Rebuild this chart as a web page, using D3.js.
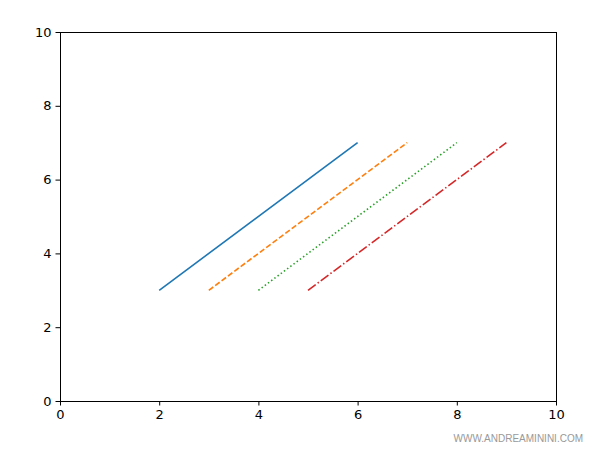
<!DOCTYPE html>
<html><head><meta charset="utf-8">
<script src="https://cdn.jsdelivr.net/npm/d3@7"></script>
<style>body{margin:0;background:#fff}svg{display:block}</style>
</head><body>
<svg id="c" width="600" height="450"></svg>
<script>
const xTicks = [0, 2, 4, 6, 8, 10];
const yTicks = [0, 2, 4, 6, 8, 10];
const seriesNames = ["s1", "s2", "s3", "s4"];
const xStart = [2, 3, 4, 5];
const xEnd = [6, 7, 8, 9];
const yStart = [3, 3, 3, 3];
const yEnd = [7, 7, 7, 7];
const colors = ["#1f77b4", "#ff7f0e", "#2ca02c", "#d62728"];
const dashes = [null, "5.55,2.4", "1.5,2.475", "9.6,2.4,1.5,2.4"];

const svg = d3.select("#c");
const L = 60, R = 556, T = 32, B = 401;
const x = d3.scaleLinear().domain([0, 10]).range([L, R]);
const y = d3.scaleLinear().domain([0, 10]).range([B, T]);

const line = d3.line().x(d => x(d[0])).y(d => y(d[1]));
seriesNames.forEach((n, i) => {
  svg.append("path")
    .attr("d", line([[xStart[i], yStart[i]], [xEnd[i], yEnd[i]]]))
    .attr("fill", "none").attr("stroke", colors[i]).attr("stroke-width", 1.6)
    .attr("stroke-dasharray", dashes[i]);
});

const fontF = "DejaVu Sans, sans-serif";
const xa = svg.append("g").attr("transform", `translate(0,${B})`)
  .call(d3.axisBottom(x).tickValues(xTicks).tickFormat(d3.format("d")).tickSize(4.5).tickPadding(4));
const ya = svg.append("g").attr("transform", `translate(${L},0)`)
  .call(d3.axisLeft(y).tickValues(yTicks).tickFormat(d3.format("d")).tickSize(4.5).tickPadding(4));
[xa, ya].forEach(a => {
  a.select(".domain").remove();
  a.selectAll("text").attr("font-family", fontF).attr("font-size", 13).attr("fill", "#000");
  a.selectAll("line").attr("stroke", "#000").attr("stroke-width", 1);
});

svg.append("rect").attr("x", L).attr("y", T).attr("width", R - L).attr("height", B - T)
  .attr("fill", "none").attr("stroke", "#000").attr("stroke-width", 1).attr("shape-rendering", "crispEdges");

svg.append("text").attr("x", 583).attr("y", 442).attr("text-anchor", "end")
  .attr("font-family", "Liberation Sans, Arial, sans-serif").attr("font-size", 10).attr("fill", "#999")
  .text("WWW.ANDREAMININI.COM");
</script>
</body></html>
